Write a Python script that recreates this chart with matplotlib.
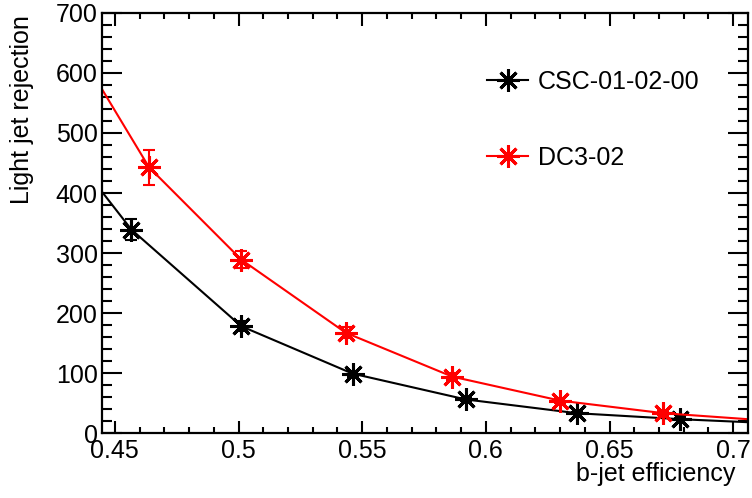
import matplotlib
matplotlib.use("Agg")
import matplotlib.pyplot as plt
from matplotlib.ticker import MultipleLocator

plt.rcParams['font.family'] = ['Liberation Sans', 'DejaVu Sans']

# b-jet efficiency vs light jet rejection
eff_csc = [0.4567, 0.5011, 0.5461, 0.5918, 0.6368, 0.6786]
rej_csc = [339, 178, 99, 56, 33, 23]
err_csc = [18, 8, 5, 3, 2, 2]

eff_dc3 = [0.4638, 0.5011, 0.5434, 0.5864, 0.6300, 0.6718]
rej_dc3 = [443, 289, 167, 94, 54, 33]
err_dc3 = [29, 14, 9, 6, 4, 3]

# where each curve meets the left / right frame
x_edges = [0.4448, 0.706]
csc_edges = [402, 18]
dc3_edges = [573, 23]

labels = ["CSC-01-02-00", "DC3-02"]

fig = plt.figure(figsize=(7.52, 4.98), dpi=100)
ax = fig.add_axes([102/752, 1 - 433/498, 646/752, 420/498])

star = (8, 2, 0)
for xs, ys, es, ends, col, lab in [
        (eff_csc, rej_csc, err_csc, csc_edges, 'black', labels[0]),
        (eff_dc3, rej_dc3, err_dc3, dc3_edges, 'red', labels[1])]:
    cx = [x_edges[0]] + xs + [x_edges[1]]
    cy = [ends[0]] + ys + [ends[1]]
    ax.plot(cx, cy, color=col, lw=1.5, clip_on=True)
    ax.errorbar(xs, ys, yerr=es, fmt='none', ecolor=col, elinewidth=1.5,
                capsize=4, capthick=1.5)
    ax.plot(xs, ys, ls='', marker=star, ms=16, mew=2.2, color=col)
    # legend proxy
    ax.plot([], [], color=col, lw=1.5, marker=star, ms=16, mew=2.2, label=lab)

ax.set_xlim(x_edges[0], x_edges[1])
ax.set_ylim(0, 700)

ax.xaxis.set_minor_locator(MultipleLocator(0.01))
ax.yaxis.set_major_locator(MultipleLocator(100))
ax.yaxis.set_minor_locator(MultipleLocator(20))
ax.set_xticks([0.45, 0.5, 0.55, 0.6, 0.65, 0.7])
ax.set_xticklabels(['0.45', '0.5', '0.55', '0.6', '0.65', '0.7'])

ax.tick_params(axis='both', which='both', direction='in', top=True, right=True,
               width=1.5, labelsize=18)
ax.tick_params(axis='x', which='major', length=9, pad=4)
ax.tick_params(axis='x', which='minor', length=4.5)
ax.tick_params(axis='y', which='major', length=14.5, pad=3)
ax.tick_params(axis='y', which='minor', length=7.2)
for sp in ax.spines.values():
    sp.set_linewidth(1.6)

ax.set_xlabel("b-jet efficiency", fontsize=18, loc='right')
ax.xaxis.set_label_coords((735 - 102) / 646, -0.068)
ax.set_ylabel("Light jet rejection", fontsize=18, loc='top')
ax.yaxis.set_label_coords(-0.105, 0.995)

ax.legend(loc='upper left', bbox_to_anchor=(0.596, 0.865), frameon=False,
          fontsize=18, borderpad=0, handlelength=1.64, handletextpad=0.4,
          labelspacing=2.1, borderaxespad=0)

fig.savefig("out.png", dpi=100)
